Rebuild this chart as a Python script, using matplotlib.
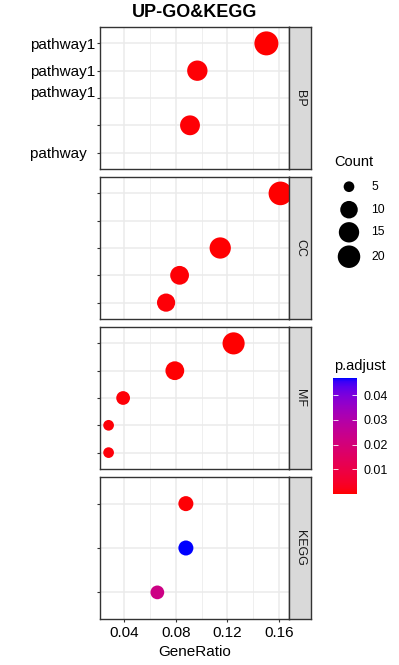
import numpy as np
import matplotlib
matplotlib.use("Agg")
import matplotlib.pyplot as plt
from matplotlib.colors import ListedColormap, Normalize
from matplotlib.cm import ScalarMappable

plt.rcParams['font.family'] = ['Liberation Sans', 'DejaVu Sans']

# ---------------- data ----------------
title = "UP-GO&KEGG"
x_label = "GeneRatio"
facets = ["BP", "CC", "MF", "KEGG"]

bp_labels = ["pathway1", "pathway1", "pathway1\n", "", "pathway  "]
bp_rows = [0, 1, 3]
bp_ratio = [0.1504, 0.0967, 0.0910]
bp_count = [24, 15, 14]
bp_padj = [0.0002, 0.0004, 0.0005]

cc_labels = ["", "", "", "", ""]
cc_rows = [0, 2, 3, 4]
cc_ratio = [0.1613, 0.1145, 0.0829, 0.0724]
cc_count = [23, 17, 12, 11]
cc_padj = [0.0001, 0.0003, 0.0004, 0.0006]

mf_labels = ["", "", "", "", ""]
mf_rows = [0, 1, 2, 3, 4]
mf_ratio = [0.1249, 0.0792, 0.0390, 0.0277, 0.0277]
mf_count = [19, 12, 6, 5, 5]
mf_padj = [0.00002, 0.0003, 0.0006, 0.0007, 0.0008]

kegg_labels = ["", "", ""]
kegg_rows = [0, 1, 2]
kegg_ratio = [0.0878, 0.0878, 0.0656]
kegg_count = [7, 7, 6]
kegg_padj = [0.0005, 0.0468, 0.0225]

x_ticks = [0.04, 0.08, 0.12, 0.16]
x_minor = [0.06, 0.10, 0.14]
size_breaks = [5, 10, 15, 20]
padj_breaks = [0.01, 0.02, 0.03, 0.04]

panels = [
    (bp_labels, bp_rows, bp_ratio, bp_count, bp_padj),
    (cc_labels, cc_rows, cc_ratio, cc_count, cc_padj),
    (mf_labels, mf_rows, mf_ratio, mf_count, mf_padj),
    (kegg_labels, kegg_rows, kegg_ratio, kegg_count, kegg_padj),
]

# ---------------- colour scale (Lab interpolation, red -> blue) ----------------
M = np.array([[0.4124564, 0.3575761, 0.1804375],
              [0.2126729, 0.7151522, 0.0721750],
              [0.0193339, 0.1191920, 0.9503041]])
WP = np.array([0.95047, 1.0, 1.08883])


def srgb_to_lab(rgb):
    rgb = np.asarray(rgb, float)
    lin = np.where(rgb <= 0.04045, rgb / 12.92, ((rgb + 0.055) / 1.055) ** 2.4)
    f = (lin @ M.T) / WP
    d = 6 / 29
    ft = np.where(f > d ** 3, np.cbrt(f), f / (3 * d * d) + 4 / 29)
    return np.stack([116 * ft[..., 1] - 16,
                     500 * (ft[..., 0] - ft[..., 1]),
                     200 * (ft[..., 1] - ft[..., 2])], -1)


def lab_to_srgb(lab):
    L, a, b = lab[..., 0], lab[..., 1], lab[..., 2]
    fy = (L + 16) / 116
    fx = fy + a / 500
    fz = fy - b / 200
    d = 6 / 29
    finv = lambda t: np.where(t > d, t ** 3, 3 * d * d * (t - 4 / 29))
    xyz = np.stack([finv(fx), finv(fy), finv(fz)], -1) * WP
    lin = np.clip(xyz @ np.linalg.inv(M).T, 0, 1)
    return np.clip(np.where(lin <= 0.0031308, 12.92 * lin, 1.055 * lin ** (1 / 2.4) - 0.055), 0, 1)


t = np.linspace(0, 1, 256)[:, None]
lab_lo = srgb_to_lab([1.0, 0.0, 0.0])
lab_hi = srgb_to_lab([0.0, 0.0, 1.0])
cmap = ListedColormap(lab_to_srgb(lab_lo + t * (lab_hi - lab_lo)))

all_padj = np.concatenate([p[4] for p in panels])
all_count = np.concatenate([p[3] for p in panels])
all_ratio = np.concatenate([p[2] for p in panels])
norm = Normalize(vmin=all_padj.min(), vmax=all_padj.max())
cmin, cmax = all_count.min(), all_count.max()


def size_pt2(c):
    c = np.asarray(c, float)
    d_px = 10.7 + 13.3 * np.sqrt((c - cmin) / (cmax - cmin))
    return (d_px * 0.72) ** 2

# ---------------- layout ----------------
W, H = 399, 665
fig = plt.figure(figsize=(W / 100, H / 100), dpi=100)
fig.patch.set_facecolor("white")


def box(x0, y0, x1, y1):
    return [x0 / W, 1 - y1 / H, (x1 - x0) / W, (y1 - y0) / H]


xr = all_ratio.max() - all_ratio.min()
xlim = (all_ratio.min() - 0.05 * xr, all_ratio.max() + 0.05 * xr)

panel_left, panel_right, strip_right = 100, 289, 311
tops = [27, 177, 327, 477]
ph = 142
border = "#333333"
grid_c = "#EBEBEB"

for i, (labels, rows, ratio, count, padj) in enumerate(panels):
    top = tops[i]
    ax = fig.add_axes(box(panel_left, top, panel_right, top + ph))
    n = len(labels)
    ax.set_xlim(*xlim)
    ax.set_ylim(n - 1 + 0.6, -0.6)
    ax.set_xticks(x_ticks)
    ax.set_xticks(x_minor, minor=True)
    ax.set_yticks(range(n))
    ax.set_yticklabels(labels, fontsize=11, color="black")
    ax.grid(True, which="major", color=grid_c, lw=1.1, zorder=0)
    ax.grid(True, which="minor", axis="x", color=grid_c, lw=0.55, zorder=0)
    ax.set_axisbelow(True)
    ax.tick_params(axis="y", length=2.2, width=0.8, color=border, pad=1.4)
    ax.tick_params(axis="x", which="minor", length=0)
    if i == len(panels) - 1:
        ax.set_xticklabels([f"{v:.2f}" for v in x_ticks], fontsize=11, color="black")
        ax.tick_params(axis="x", which="major", length=2.2, width=0.8, color=border, pad=3.0)
    else:
        ax.tick_params(axis="x", which="major", length=0, labelbottom=False)
    for s in ax.spines.values():
        s.set_color(border)
        s.set_linewidth(1.0)
    ax.scatter(ratio, rows, s=size_pt2(count), c=padj, cmap=cmap, norm=norm,
               linewidths=0, zorder=3)

    sax = fig.add_axes(box(panel_right, top, strip_right, top + ph))
    sax.set_facecolor("#D9D9D9")
    sax.set_xticks([])
    sax.set_yticks([])
    for s in sax.spines.values():
        s.set_color(border)
        s.set_linewidth(1.0)
    sax.text(0.5, 0.5, facets[i], rotation=-90, ha="center", va="center",
             fontsize=9, color="#1A1A1A", transform=sax.transAxes)

# title and axis label
fig.text(195 / W, 1 - 16.7 / H, title, ha="center", va="baseline",
         fontsize=13, fontweight="bold", color="black")
fig.text((panel_left + panel_right) / 2 / W, 1 - 656.5 / H, x_label,
         ha="center", va="baseline", fontsize=11, color="black")

# size legend
lax = fig.add_axes([0, 0, 1, 1], facecolor="none")
lax.set_xlim(0, W)
lax.set_ylim(H, 0)
lax.axis("off")
lax.text(334, 166.3, "Count", ha="left", va="baseline", fontsize=10.5, color="black")
key_y = [186.7, 209.7, 232.3, 256.7]
lax.scatter([349] * len(size_breaks), key_y, s=size_pt2(size_breaks), color="black",
            linewidths=0, clip_on=False)
for yk, b in zip(key_y, size_breaks):
    lax.text(371, yk, str(b), ha="left", va="center", fontsize=8.8, color="black")

# colour bar
lax.text(334, 370, "p.adjust", ha="left", va="baseline", fontsize=10.5, color="black")
cax = fig.add_axes(box(333.3, 378.3, 356.7, 494))
cb = fig.colorbar(ScalarMappable(norm=norm, cmap=cmap), cax=cax)
cb.outline.set_visible(False)
cb.set_ticks(padj_breaks)
cb.set_ticklabels([f"{v:.2f}" for v in padj_breaks])
cax.tick_params(axis="y", direction="in", color="white", length=3.3, width=0.6,
                left=True, right=True, labelsize=9, labelcolor="black", pad=5)

fig.savefig("out.png", dpi=100)
